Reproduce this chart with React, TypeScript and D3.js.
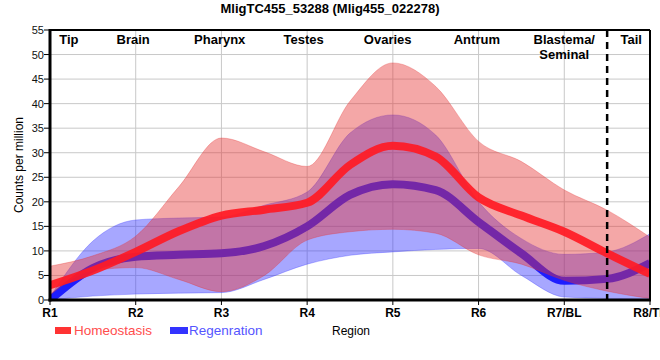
import * as d3 from 'd3';

const regions = ['R1', 'R2', 'R3', 'R4', 'R5', 'R6', 'R7/BL', 'R8/TL'];
const yTicks = [0, 5, 10, 15, 20, 25, 30, 35, 40, 45, 50, 55];

const samplePos = [0, 0.5, 1, 1.5, 2, 2.5, 3, 3.5, 4, 4.5, 5, 5.5, 6, 6.5, 7];

// homeostasis: mean and band
const homMean = [3.0, 6.0, 9.8, 14.0, 17.2, 18.4, 19.8, 27.5, 31.4, 29.2, 20.9, 17.2, 13.9, 9.5, 5.3];
const homUpper = [6.9, 9.0, 13.0, 23.0, 33.0, 30.2, 27.2, 40.5, 48.3, 43.5, 32.3, 28.2, 22.4, 18.3, 12.8];
const homLower = [1.0, 6.0, 6.6, 4.2, 1.7, 5.0, 12.2, 13.9, 14.4, 13.6, 9.2, 7.3, 4.0, 1.8, 0.3];

// regeneration: mean and band
const regMean = [0.0, 6.5, 8.8, 9.2, 9.5, 11.0, 15.0, 21.4, 23.6, 22.4, 15.9, 9.5, 3.9, 4.3, 7.5];
const regUpper = [0.6, 12.0, 16.3, 16.7, 16.9, 19.3, 22.0, 34.0, 37.7, 33.6, 20.0, 12.5, 9.3, 9.8, 13.5];
const regLower = [0.0, 0.8, 1.2, 1.4, 1.5, 4.2, 7.3, 9.1, 9.8, 10.3, 10.5, 5.0, 0.6, 0.3, 0.0];

// tissue labels along the top, at region index positions
const tissues = [
  { text: ['Tip'], at: 0.22 },
  { text: ['Brain'], at: 0.97 },
  { text: ['Pharynx'], at: 1.98 },
  { text: ['Testes'], at: 2.96 },
  { text: ['Ovaries'], at: 3.94 },
  { text: ['Antrum'], at: 4.98 },
  { text: ['Blastema/', 'Seminal'], at: 6.0 },
  { text: ['Tail'], at: 6.78 },
];
const dividerAt = 6.5;

const W = 660;
const H = 360;
const margin = { top: 30, right: 10, bottom: 60, left: 50 };

export default function App() {
  const x = d3.scaleLinear([0, regions.length - 1], [margin.left, W - margin.right]);
  const y = d3.scaleLinear([0, 55], [H - margin.bottom, margin.top]);
  const idx = samplePos.map((_, i) => i);

  const band = (lo: number[], hi: number[]) =>
    d3
      .area<number>()
      .x((i) => x(samplePos[i]))
      .y0((i) => y(lo[i]))
      .y1((i) => y(hi[i]))
      .curve(d3.curveMonotoneX)(idx) ?? '';
  const line = (v: number[]) =>
    d3
      .line<number>()
      .x((i) => x(samplePos[i]))
      .y((i) => y(v[i]))
      .curve(d3.curveMonotoneX)(idx) ?? '';

  const font = 'Arial, "Liberation Sans", sans-serif';
  const [x0, x1] = x.range();
  const [yb, yt] = y.range();

  return (
    <svg
      width={W}
      height={H}
      style={{ position: 'absolute', left: 0, top: 0, background: '#fff' }}
      fontFamily={font}
    >
      <defs>
        <clipPath id="plot">
          <rect x={x0} y={yt} width={x1 - x0} height={yb - yt} />
        </clipPath>
      </defs>

      <text x={330} y={13} textAnchor="middle" fontSize={13} fontWeight="bold">
        MligTC455_53288 (Mlig455_022278)
      </text>

      {/* grid */}
      <g stroke="#c8c8c8" strokeWidth={1}>
        {yTicks.map((t) => (
          <line key={t} x1={x0} x2={x1} y1={y(t)} y2={y(t)} />
        ))}
        {regions.map((r, i) => (
          <line key={r} x1={x(i)} x2={x(i)} y1={yt} y2={yb} />
        ))}
      </g>

      <g clipPath="url(#plot)">
        <path d={band(regLower, regUpper)} fill="#3232ff" fillOpacity={0.43} stroke="#3232ff" strokeOpacity={0.3} />
        <path d={line(regMean)} fill="none" stroke="#1e1eff" strokeWidth={8} />
        <path d={band(homLower, homUpper)} fill="#e63232" fillOpacity={0.43} stroke="#e63232" strokeOpacity={0.3} />
        <path d={line(homMean)} fill="none" stroke="#ff1a24" strokeOpacity={0.92} strokeWidth={8} />
      </g>

      {/* frame */}
      <line x1={x0} x2={x1} y1={yt} y2={yt} stroke="#000" strokeWidth={2} />
      <line x1={x1} x2={x1} y1={yt} y2={yb} stroke="#000" strokeWidth={2} />
      <line x1={x0} x2={x0} y1={yt - 1} y2={yb + 1.5} stroke="#000" strokeWidth={3} />
      <line x1={x0 - 1.5} x2={x1 + 1} y1={yb} y2={yb} stroke="#000" strokeWidth={3} />

      {/* y axis */}
      {yTicks.map((t) => (
        <g key={t}>
          <line x1={x0 - 6} x2={x0} y1={y(t)} y2={y(t)} stroke="#000" />
          <text x={x0 - 6} y={y(t) + 4} textAnchor="end" fontSize={11} fill="#111">
            {t}
          </text>
        </g>
      ))}
      <text
        transform={`translate(23, ${(yt + yb) / 2}) rotate(-90)`}
        textAnchor="middle"
        fontSize={12}
      >
        Counts per million
      </text>

      {/* x axis */}
      {regions.map((r, i) => (
        <g key={r}>
          <line x1={x(i)} x2={x(i)} y1={yb} y2={yb + 5} stroke="#000" />
          <text x={x(i)} y={yb + 17} textAnchor="middle" fontSize={12} fontWeight="bold">
            {r}
          </text>
        </g>
      ))}

      {/* tissue labels */}
      {tissues.map((t) => (
        <text key={t.text[0]} x={x(t.at)} y={44} textAnchor="middle" fontSize={13} fontWeight="bold">
          {t.text.map((s, k) => (
            <tspan key={s} x={x(t.at)} dy={k === 0 ? 0 : 15}>
              {s}
            </tspan>
          ))}
        </text>
      ))}

      <line
        x1={x(dividerAt)}
        x2={x(dividerAt)}
        y1={yt}
        y2={yb + 6}
        stroke="#000"
        strokeWidth={2.5}
        strokeDasharray="7,5"
      />

      {/* legend */}
      <rect x={55} y={327} width={16} height={7} fill="#ff3333" />
      <text x={74} y={335} fontSize={13.5} fill="#ff4d4d">
        Homeostasis
      </text>
      <rect x={170} y={327} width={18} height={7} fill="#3333ff" />
      <text x={189} y={335} fontSize={13.5} fill="#5555ff">
        Regenration
      </text>
      <text x={332} y={335} fontSize={12}>
        Region
      </text>
    </svg>
  );
}
